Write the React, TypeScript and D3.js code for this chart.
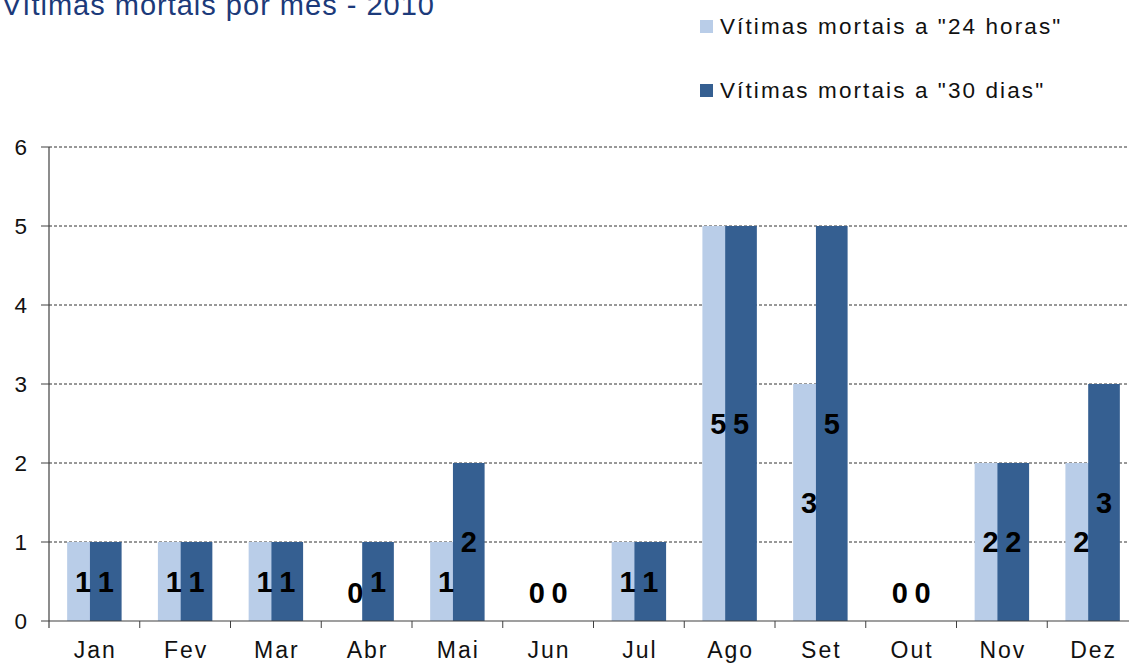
import React from 'react';
import * as d3 from 'd3';

const months = ['Jan', 'Fev', 'Mar', 'Abr', 'Mai', 'Jun', 'Jul', 'Ago', 'Set', 'Out', 'Nov', 'Dez'];
const victims24h = [1, 1, 1, 0, 1, 0, 1, 5, 3, 0, 2, 2];
const victims30d = [1, 1, 1, 1, 2, 0, 1, 5, 5, 0, 2, 3];
const seriesNames = ['Vítimas mortais a "24 horas"', 'Vítimas mortais a "30 dias"'];
const yTicks = [0, 1, 2, 3, 4, 5, 6];
const title = 'Vítimas mortais por mês - 2010';

const W = 1129;
const H = 663;
const colors = ['#B9CDE8', '#355F91'];
const font = '"Liberation Sans", Arial, sans-serif';

const App = () => {
  const x0 = 49;
  const x = d3.scaleBand().domain(months).range([x0, x0 + 12 * 90.75]).padding(0);
  const y = d3.scaleLinear().domain([0, 6]).range([621, 147]);
  const bw = x.bandwidth();
  const groupW = bw * 0.6;
  const overlap = 0.28;
  const barW = groupW / (2 - overlap);
  const offset = (bw - groupW) / 2;
  const series = [victims24h, victims30d];

  const labelY = (v) => (v > 0 ? y(v / 2) : y(0) - 28);

  return (
    <svg width={W} height={H} style={{ position: 'absolute', left: 0, top: 0, background: '#fff' }}>
      <text x={2} y={15} fill="#1C3A7A" fontFamily={font} fontSize={29} letterSpacing={1}>{title}</text>

      {/* legenda */}
      {seriesNames.map((s, i) => (
        <g key={s} transform={`translate(700, ${20 + i * 64})`}>
          <rect width={13} height={13} fill={colors[i]} />
          <text x={20} y={13.5} fontFamily={font} fontSize={22.5} letterSpacing={2.1} fill="#111">{s}</text>
        </g>
      ))}

      {/* grelha */}
      {yTicks.filter(t => t > 0).map(t => (
        <line key={t} x1={x0} x2={W} y1={y(t)} y2={y(t)} stroke="#333" strokeWidth={1} strokeDasharray="3,2" />
      ))}

      {/* barras */}
      {series.map((vals, si) => (
        <g key={si}>
          {months.map((m, i) => (
            <rect key={m}
              x={x(m) + offset + si * (barW * (1 - overlap))}
              y={y(vals[i])}
              width={barW}
              height={y(0) - y(vals[i])}
              fill={colors[si]} />
          ))}
        </g>
      ))}

      {/* eixos */}
      <line x1={x0} x2={x0} y1={y(6)} y2={y(0) + 7} stroke="#404040" strokeWidth={1.2} />
      <line x1={x0} x2={W} y1={y(0)} y2={y(0)} stroke="#404040" strokeWidth={1.2} />
      {yTicks.map(t => (
        <g key={t}>
          <line x1={x0 - 8} x2={x0} y1={y(t)} y2={y(t)} stroke="#404040" />
          <text x={27} y={y(t)} dy="0.36em" textAnchor="end" fontFamily={font} fontSize={22.5} fill="#111">{t}</text>
        </g>
      ))}
      {months.map((m) => (
        <g key={m}>
          <line x1={x(m) + bw} x2={x(m) + bw} y1={y(0)} y2={y(0) + 7} stroke="#404040" />
          <text x={x(m) + bw / 2 + 1} y={658} textAnchor="middle" fontFamily={font} fontSize={23} letterSpacing={2} fill="#111">{m}</text>
        </g>
      ))}

      {/* rótulos */}
      {series.map((vals, si) => (
        <g key={si}>
          {months.map((m, i) => (
            <text key={m}
              x={x(m) + offset + si * (barW * (1 - overlap)) + barW / 2}
              y={labelY(vals[i])}
              dy="0.36em"
              textAnchor="middle"
              fontFamily={font}
              fontWeight="bold"
              fontSize={29}
              fill="#000">{vals[i]}</text>
          ))}
        </g>
      ))}
    </svg>
  );
};

export default App;
